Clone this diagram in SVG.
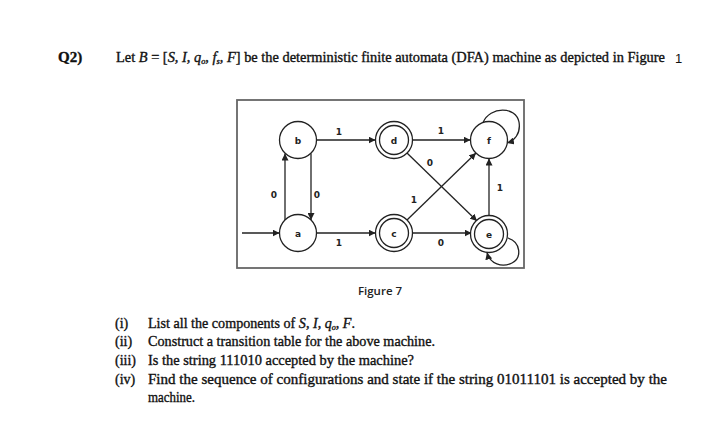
<svg xmlns="http://www.w3.org/2000/svg" width="720" height="441" viewBox="0 0 720 441">
<defs>
<marker id="ah" viewBox="0 0 10 10" refX="10" refY="5" markerWidth="7" markerHeight="7" markerUnits="userSpaceOnUse" orient="auto">
<path d="M0,0 L10,5 L0,10 z" fill="#222"/>
</marker>
</defs>
<style>
.t{font-family:"Liberation Serif","Times New Roman",serif;font-size:14px;fill:#111;stroke:#111;stroke-width:0.35}
.i{font-style:italic}
.st{fill:#fff;stroke:#222;stroke-width:1.3}
.lb{font-family:"DejaVu Sans","Liberation Sans",sans-serif;font-size:9px;font-weight:bold;fill:#222;text-anchor:middle}
.el{font-family:"DejaVu Sans","Liberation Sans",sans-serif;font-size:9px;font-weight:bold;fill:#222;text-anchor:middle}
.ed{fill:none;stroke:#222;stroke-width:1.3;marker-end:url(#ah)}
</style>
<rect width="720" height="441" fill="#fff"/>

<text class="t" x="58" y="62" style="font-weight:bold;font-size:15px">Q2)</text>
<text class="t" x="116" y="62" textLength="549" lengthAdjust="spacingAndGlyphs">Let <tspan class="i">B</tspan> = [<tspan class="i">S</tspan>, <tspan class="i">I</tspan>, <tspan class="i">q</tspan><tspan class="i" font-size="8" dy="2">o</tspan><tspan dy="-2">, </tspan><tspan class="i">f</tspan><tspan class="i" font-size="8" dy="2">s</tspan><tspan dy="-2">, </tspan><tspan class="i">F</tspan>] be the deterministic finite automata (DFA) machine as depicted in Figure</text>
<text x="675" y="63" style="font-family:'Liberation Sans',Arial,sans-serif;font-size:13px;fill:#111">1</text>

<rect x="237" y="100" width="287" height="168" fill="none" stroke="#666" stroke-width="1.8"/>

<g id="connectors">
<line class="ed" x1="242" y1="233" x2="279.5" y2="233"/>
<line class="ed" x1="285" y1="220" x2="285" y2="153.5"/>
<line class="ed" x1="311" y1="153.5" x2="311" y2="220"/>
<line class="ed" x1="316.5" y1="140" x2="375.5" y2="140"/>
<line class="ed" x1="316.5" y1="233" x2="375.5" y2="233"/>
<line class="ed" x1="412.5" y1="140" x2="470.5" y2="140"/>
<line class="ed" x1="412.5" y1="233" x2="471.5" y2="233"/>
<line class="ed" x1="407" y1="153" x2="477" y2="221"/>
<line class="ed" x1="407" y1="220" x2="476" y2="153"/>
<line class="ed" x1="489" y1="215.5" x2="489" y2="158.5"/>
<path class="ed" d="M483,122.5 C490,106 516,106 519,122 C521,134 514,141 507,143"/>
<path class="ed" d="M508,238 C521,242 522,258 512,263 C502,268 490,264 487,252.5"/>
<text class="el" x="339" y="135">1</text>
<text class="el" x="339" y="246">1</text>
<text class="el" x="274" y="198">0</text>
<text class="el" x="317" y="198">0</text>
<text class="el" x="441" y="134">1</text>
<text class="el" x="441" y="246">0</text>
<text class="el" x="430" y="166">0</text>
<text class="el" x="414" y="203">1</text>
<text class="el" x="500" y="191">1</text>
</g>

<g id="node-b"><circle class="st" cx="298" cy="140" r="18.5"/><text class="lb" x="298" y="143.5">b</text></g>
<g id="node-a"><circle class="st" cx="298" cy="233" r="18.5"/><text class="lb" x="298" y="236.5">a</text></g>
<g id="node-d"><circle class="st" cx="394" cy="140" r="18.5"/><circle class="st" cx="394" cy="140" r="14.5"/><text class="lb" x="394" y="143.5">d</text></g>
<g id="node-c"><circle class="st" cx="394" cy="233" r="18.5"/><circle class="st" cx="394" cy="233" r="14.5"/><text class="lb" x="394" y="236.5">c</text></g>
<g id="node-f"><circle class="st" cx="489" cy="140" r="18.5"/><text class="lb" x="489" y="143.5">f</text></g>
<g id="node-e"><circle class="st" cx="489" cy="234" r="18.5"/><circle class="st" cx="489" cy="234" r="14.5"/><text class="lb" x="489" y="237.5">e</text></g>

<text x="380" y="295" text-anchor="middle" style="font-family:'Open Sans','Liberation Sans',sans-serif;font-size:11.5px;font-weight:600;fill:#222">Figure 7</text>

<text class="t" x="115" y="328">(i)</text>
<text class="t" x="148" y="328" textLength="207" lengthAdjust="spacingAndGlyphs">List all the components of <tspan class="i">S</tspan>, <tspan class="i">I</tspan>, <tspan class="i">q</tspan><tspan class="i" font-size="8" dy="2">o</tspan><tspan dy="-2">, </tspan><tspan class="i">F</tspan>.</text>
<text class="t" x="115" y="346">(ii)</text>
<text class="t" x="148" y="346" textLength="287" lengthAdjust="spacingAndGlyphs">Construct a transition table for the above machine.</text>
<text class="t" x="115" y="365">(iii)</text>
<text class="t" x="148" y="365" textLength="266" lengthAdjust="spacingAndGlyphs">Is the string 111010 accepted by the machine?</text>
<text class="t" x="115" y="384">(iv)</text>
<text class="t" x="148" y="384" textLength="519" lengthAdjust="spacingAndGlyphs">Find the sequence of configurations and state if the string 01011101 is accepted by the</text>
<text class="t" x="148" y="402" textLength="47" lengthAdjust="spacingAndGlyphs">machine.</text>
</svg>
